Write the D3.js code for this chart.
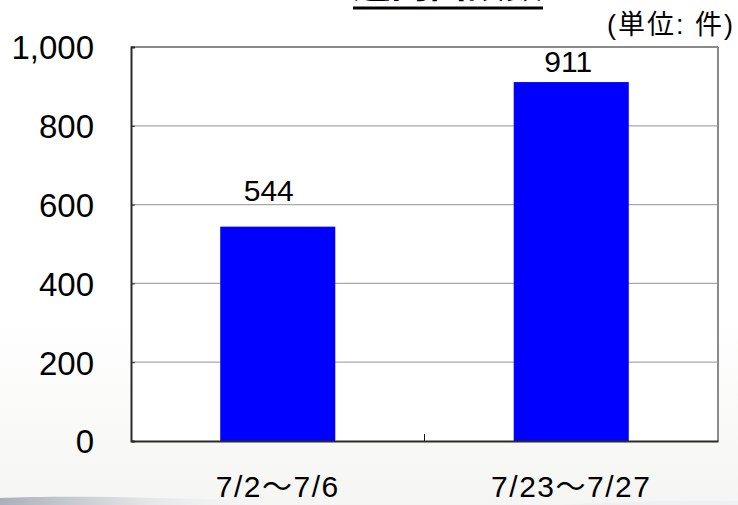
<!DOCTYPE html>
<html>
<head>
<meta charset="utf-8">
<script src="https://cdn.jsdelivr.net/npm/d3@7/dist/d3.min.js"></script>
<style>
  html, body { margin: 0; padding: 0; background: #fff; }
  svg { display: block; }
</style>
</head>
<body>
<div id="chart"></div>
<script>
// Weekly interview counts
const categories = ["7/2〜7/6", "7/23〜7/27"];
const values = [544, 911];
const yTicks = [0, 200, 400, 600, 800, 1000];
const title = "週間面談数";
const unitLabel = "(単位: 件)";

const W = 738, H = 505;
const margin = { left: 131, right: 20, top: 47, bottom: 64 };
const plotRight = W - margin.right;
const plotBottom = H - margin.bottom;

const svg = d3.select("#chart").append("svg")
  .attr("width", W).attr("height", H);

// soft slide background
const defs = svg.append("defs");
const bg = defs.append("linearGradient").attr("id", "bg")
  .attr("x1", 0).attr("y1", 0).attr("x2", 0).attr("y2", 1);
bg.append("stop").attr("offset", "0%").attr("stop-color", "#ffffff");
bg.append("stop").attr("offset", "62%").attr("stop-color", "#ffffff");
bg.append("stop").attr("offset", "100%").attr("stop-color", "#f5f5f3");
svg.append("rect").attr("width", W).attr("height", H).attr("fill", "url(#bg)");

const sw = defs.append("linearGradient").attr("id", "swoosh")
  .attr("x1", 0).attr("y1", 0).attr("x2", 1).attr("y2", 0);
sw.append("stop").attr("offset", "0%").attr("stop-color", "#aab0bb");
sw.append("stop").attr("offset", "45%").attr("stop-color", "#e4e6e8");
sw.append("stop").attr("offset", "100%").attr("stop-color", "#ffffff").attr("stop-opacity", 0);
svg.append("path")
  .attr("d", `M0,${H} L0,498 C80,495 200,498 330,505 Z`)
  .attr("fill", "url(#swoosh)");
svg.append("path")
  .attr("d", `M560,${H} C630,501 690,500 ${W},501 L${W},${H} Z`)
  .attr("fill", "#eef0f2");

const x = d3.scaleBand()
  .domain(categories)
  .range([margin.left, plotRight])
  .paddingInner(0.608)
  .paddingOuter(0.304);

const y = d3.scaleLinear()
  .domain([0, 1000])
  .range([plotBottom, margin.top]);

// plot area
svg.append("rect")
  .attr("x", margin.left).attr("y", margin.top)
  .attr("width", plotRight - margin.left).attr("height", plotBottom - margin.top)
  .attr("fill", "#ffffff");

// gridlines
svg.append("g")
  .selectAll("line")
  .data(yTicks.filter(d => d > 0 && d < 1000))
  .join("line")
  .attr("x1", margin.left).attr("x2", plotRight)
  .attr("y1", d => y(d)).attr("y2", d => y(d))
  .attr("stroke", "#a8a8a8").attr("stroke-width", 1.2);

// bars
svg.append("g")
  .selectAll("rect")
  .data(values)
  .join("rect")
  .attr("x", (d, i) => x(categories[i]))
  .attr("y", d => y(d))
  .attr("width", x.bandwidth())
  .attr("height", d => plotBottom - y(d))
  .attr("fill", "#0000ff");

// frame: top & right lighter, left & bottom dark
svg.append("line").attr("x1", margin.left).attr("x2", plotRight)
  .attr("y1", margin.top).attr("y2", margin.top)
  .attr("stroke", "#8a8a8a").attr("stroke-width", 2);
svg.append("line").attr("x1", plotRight).attr("x2", plotRight)
  .attr("y1", margin.top).attr("y2", plotBottom)
  .attr("stroke", "#8a8a8a").attr("stroke-width", 2);

// y axis
const yAxis = d3.axisLeft(y)
  .tickValues(yTicks)
  .tickSize(-4)
  .tickPadding(37)
  .tickFormat(d3.format(","));
const gy = svg.append("g")
  .attr("transform", `translate(${margin.left},0)`)
  .call(yAxis);
gy.select(".domain").attr("stroke", "#2a2a2a").attr("stroke-width", 2);
gy.selectAll(".tick line").attr("stroke", "#2a2a2a");
gy.selectAll(".tick text")
  .attr("font-family", "'Liberation Sans', Arial, sans-serif")
  .attr("font-size", 33)
  .attr("fill", "#000")
  .attr("dy", "0.36em");

// x axis
const xAxis = d3.axisBottom(x).tickSize(0).tickPadding(35);
const gx = svg.append("g")
  .attr("transform", `translate(0,${plotBottom})`)
  .call(xAxis);
gx.select(".domain").attr("stroke", "#2a2a2a").attr("stroke-width", 2);
gx.selectAll(".tick text")
  .attr("font-family", "'Liberation Sans', Arial, 'Noto Sans CJK JP', sans-serif")
  .attr("font-size", 30)
  .attr("letter-spacing", 1.5)
  .attr("fill", "#000");

// divider tick between categories
const mid = (x(categories[0]) + x.bandwidth() + x(categories[1])) / 2;
svg.append("line")
  .attr("x1", mid).attr("x2", mid)
  .attr("y1", plotBottom).attr("y2", plotBottom - 7)
  .attr("stroke", "#111").attr("stroke-width", 1);

// value labels
const labelLift = [26, 10];
const labelShift = [-9, -3];
svg.append("g")
  .selectAll("text")
  .data(values)
  .join("text")
  .attr("x", (d, i) => x(categories[i]) + x.bandwidth() / 2 + labelShift[i])
  .attr("y", (d, i) => y(d) - labelLift[i])
  .attr("text-anchor", "middle")
  .attr("font-family", "'Liberation Sans', Arial, sans-serif")
  .attr("font-size", 30)
  .attr("fill", "#000")
  .text(d => d);

// title (mostly above the visible area) with underline
const titleText = svg.append("text")
  .attr("x", 448).attr("y", -3)
  .attr("text-anchor", "middle")
  .attr("font-family", "'Noto Sans CJK JP', sans-serif")
  .attr("font-weight", "bold")
  .attr("font-size", 38)
  .attr("fill", "#000")
  .text(title);
const tb = titleText.node().getBBox();
svg.append("line")
  .attr("x1", tb.x).attr("x2", tb.x + tb.width)
  .attr("y1", 8).attr("y2", 8)
  .attr("stroke", "#000").attr("stroke-width", 3);

// unit label
svg.append("text")
  .attr("x", 735).attr("y", 34)
  .attr("text-anchor", "end")
  .attr("font-family", "'Liberation Sans', 'Noto Sans CJK JP', sans-serif")
  .attr("font-size", 27)
  .attr("letter-spacing", 2)
  .attr("fill", "#000")
  .text(unitLabel);
</script>
</body>
</html>
